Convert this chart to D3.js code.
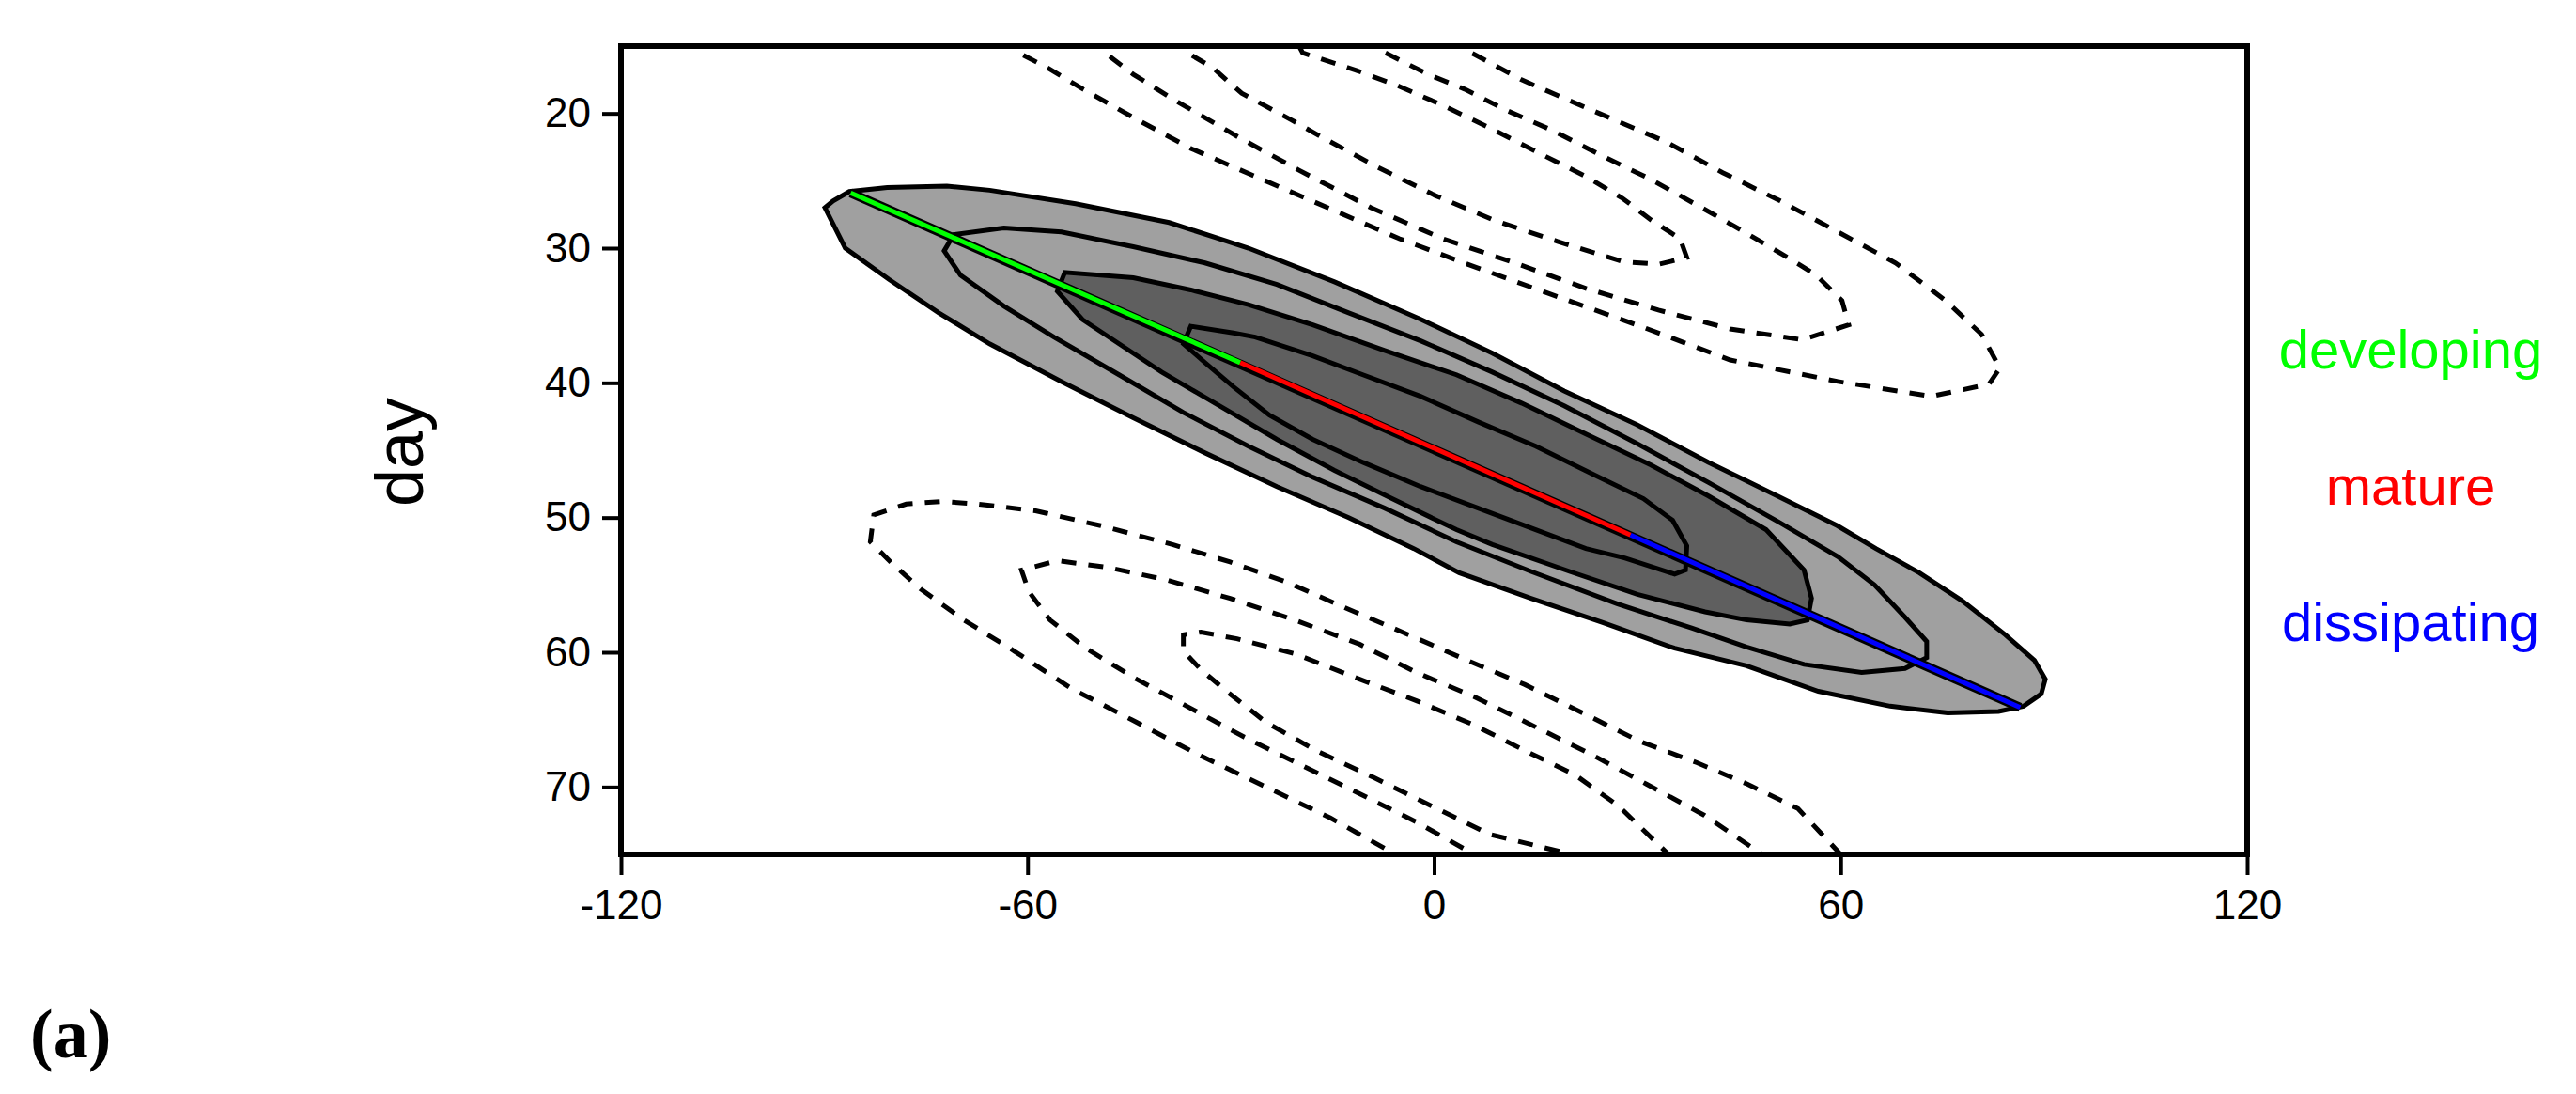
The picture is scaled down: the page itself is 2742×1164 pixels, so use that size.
<!DOCTYPE html>
<html>
<head>
<meta charset="utf-8">
<script src="https://cdn.jsdelivr.net/npm/d3@7"></script>
<style>
  body { margin: 0; background: #fff; }
  text { font-family: "Liberation Sans", Arial, sans-serif; }
</style>
</head>
<body>
<div id="chart"></div>
<script>
// axis ticks
var xTicks = [-120, -60, 0, 60, 120];
var yTicks = [20, 30, 40, 50, 60, 70];

// filled contours [lon, day]
var outerFill = [[-89.9,27.0],[-88.7,26.5],[-86.3,25.8],[-80.7,25.5],[-71.9,25.4],[-65.6,25.7],[-52.9,26.7],[-39.1,28.1],[-27.4,30.0],[-14.7,32.5],[-1.9,35.3],[8.6,37.8],[19.2,40.6],[29.9,43.1],[40.5,45.9],[51.1,48.5],[59.5,50.6],[65.2,52.3],[71.6,54.1],[78.0,56.2],[84.3,58.7],[88.6,60.6],[90.2,62.0],[89.6,63.1],[87.0,64.0],[83.3,64.4],[75.8,64.5],[67.3,64.0],[56.7,62.9],[46.1,61.0],[35.5,59.7],[24.9,57.8],[14.3,56.0],[3.7,54.1],[-3.0,52.3],[-12.6,50.0],[-23.2,47.7],[-33.8,45.2],[-44.4,42.6],[-55.0,39.9],[-65.6,37.1],[-73.1,34.8],[-80.5,32.3],[-86.9,30.0]];
var secondLine = [[-72.3,30.2],[-70.9,29.0],[-63.5,28.5],[-55.0,28.8],[-44.4,29.9],[-33.8,31.1],[-23.2,32.7],[-12.6,34.8],[-1.9,36.9],[8.6,39.2],[19.2,41.7],[29.9,44.5],[40.5,47.4],[51.1,50.4],[59.6,52.9],[65.0,55.0],[69.5,57.4],[72.7,59.2],[72.7,60.4],[69.5,61.2],[63.1,61.5],[54.6,60.9],[46.1,59.6],[38.0,58.2],[27.0,56.4],[14.3,54.0],[3.3,51.8],[-7.3,49.3],[-17.9,47.0],[-27.4,44.7],[-37.0,42.2],[-46.5,39.4],[-56.1,36.6],[-63.5,34.3],[-69.9,32.0]];
var innerFill = [[-55.6,33.2],[-54.5,31.8],[-44.4,32.2],[-35.9,33.1],[-27.4,34.2],[-17.9,35.7],[-7.3,37.6],[3.3,39.4],[12.9,41.5],[22.4,43.8],[32.0,46.1],[40.5,48.4],[49.0,50.9],[54.6,53.9],[55.7,56.0],[55.1,57.6],[52.5,57.9],[46.1,57.6],[40.0,57.0],[30.0,55.7],[20.0,54.0],[8.6,52.0],[3.3,50.9],[-6.2,48.6],[-14.7,46.5],[-23.2,44.2],[-31.7,41.7],[-40.2,39.2],[-46.5,37.1],[-51.9,35.3]];
var innerLine = [[-35.9,35.8],[-29.6,36.3],[-26.4,36.6],[-17.9,38.0],[-10.5,39.4],[-2.0,41.0],[6.5,42.9],[15.0,44.7],[23.5,46.8],[30.9,48.6],[35.2,50.2],[37.3,52.1],[37.1,53.9],[35.5,54.2],[28.1,53.0],[22.4,52.3],[15.0,50.9],[6.5,49.3],[-2.0,47.7],[-10.5,45.9],[-17.9,44.2],[-24.3,42.4],[-29.6,40.3],[-33.8,38.5],[-37.0,37.1]];

// dashed (negative) contours
var negUpper = [
  [[-37.6,14],[-36.4,15.5],[-32.7,16.6],[-28.4,18.5],[-21.0,20.5],[-16.8,21.7],[-8.3,24.0],[0.2,26.1],[8.7,27.9],[18.2,29.5],[27.8,31.0],[33.1,31.2],[37.3,30.7],[36.3,29.3],[32.0,27.9],[27.8,26.3],[22.5,24.7],[16.1,23.1],[8.7,21.2],[1.3,19.4],[-5.1,18.0],[-11.5,16.8],[-19.4,15.5],[-21.0,14]],
  [[-49.5,14],[-48.6,15.5],[-44.4,17.1],[-38.0,19.1],[-28.4,21.9],[-20.0,24.2],[-9.3,27.0],[1.3,29.3],[11.9,31.1],[22.5,33.0],[33.1,34.6],[43.7,36.0],[54.3,36.8],[61.2,35.7],[60.2,33.9],[56.4,32.0],[52.2,30.7],[45.8,28.8],[39.5,27.0],[32.0,24.9],[24.6,23.1],[17.2,21.2],[10.8,19.8],[4.5,18.2],[-0.9,17.1],[-7.2,15.5],[-8.6,14]],
  [[-62.6,14],[-61.3,15.5],[-57.1,16.6],[-51.8,18.2],[-44.4,20.3],[-35.9,22.6],[-26.3,24.7],[-15.7,27.0],[-5.1,29.3],[5.5,31.3],[18.2,33.6],[31.0,35.9],[43.7,38.3],[59.6,39.9],[73.4,41.0],[81.9,40.1],[83.5,38.9],[80.8,36.4],[75.5,33.9],[68.1,31.1],[59.6,28.8],[51.1,26.5],[42.6,24.4],[34.2,22.1],[26.7,20.5],[19.3,18.9],[12.9,17.5],[5.5,15.5],[4.0,14]]
];
var negLower = [
  [[-6.5,76],[-5.7,75],[-15.3,72.3],[-24.8,70.0],[-34.4,67.7],[-43.9,65.2],[-53.5,62.7],[-62.0,59.9],[-69.4,57.6],[-75.8,55.3],[-80.0,53.4],[-83.2,51.8],[-82.7,49.8],[-77.9,49.0],[-72.6,48.8],[-67.3,49.0],[-58.8,49.5],[-49.2,50.6],[-38.6,52.0],[-30.1,53.3],[-21.7,54.8],[-13.1,56.7],[-4.7,58.5],[4.9,60.6],[13.4,62.4],[21.9,64.5],[30.3,66.6],[38.8,68.2],[46.3,69.8],[53.7,71.6],[60.0,75],[60.5,76]],
  [[5.0,76],[5.9,75],[-2.6,72.6],[-11.0,70.5],[-19.5,68.4],[-28.0,66.3],[-36.5,64.0],[-43.9,62.0],[-51.4,59.7],[-56.7,57.6],[-59.8,55.5],[-60.9,53.9],[-55.6,53.2],[-48.2,53.7],[-39.7,54.6],[-30.1,56.0],[-20.6,57.6],[-11.0,59.4],[-2.6,61.5],[5.9,63.3],[14.4,65.4],[22.9,67.5],[31.4,69.8],[39.9,72.1],[48.4,75],[49.0,76]],
  [[19.5,76],[20.3,75],[8.1,73.5],[-0.4,71.4],[-8.9,69.3],[-17.4,67.3],[-24.8,65.2],[-30.1,63.1],[-34.4,61.3],[-37.0,59.9],[-37.0,58.7],[-34.4,58.5],[-29.1,59.0],[-20.6,60.1],[-11.0,62.0],[-2.6,63.6],[5.9,65.4],[13.4,67.3],[20.8,69.1],[27.2,71.4],[34.6,75],[35.0,76]]
];

// life-cycle track
var stageNames = ["developing", "mature", "dissipating"];
var stageColors = ["#00ff00", "#ff0000", "#0000ff"];
var stageTrack = [[[-86.1,25.9],[-28.6,38.5]], [[-28.6,38.5],[29.0,51.3]], [[29.0,51.3],[86.5,64.1]]];

var W = 2742, H = 1164;
var m = {left: 661, right: 2392, top: 49, bottom: 909};

var svg = d3.select("#chart").append("svg").attr("width", W).attr("height", H);

var x = d3.scaleLinear().domain([-120, 120]).range([m.left, m.right]);
var y = d3.scaleLinear().domain([15, 75]).range([m.top, m.bottom]);

svg.append("defs").append("clipPath").attr("id", "plotclip")
  .append("rect").attr("x", m.left).attr("y", m.top)
  .attr("width", m.right - m.left).attr("height", m.bottom - m.top);

var line = d3.line().x(function(d){ return x(d[0]); }).y(function(d){ return y(d[1]); });
var ring = d3.line().x(function(d){ return x(d[0]); }).y(function(d){ return y(d[1]); }).curve(d3.curveLinearClosed);

var g = svg.append("g").attr("clip-path", "url(#plotclip)");

g.append("path").attr("d", ring(outerFill)).attr("fill", "#a0a0a0").attr("stroke", "#000").attr("stroke-width", 5);
g.append("path").attr("d", ring(secondLine)).attr("fill", "none").attr("stroke", "#000").attr("stroke-width", 5);
g.append("path").attr("d", ring(innerFill)).attr("fill", "#5f5f5f").attr("stroke", "#000").attr("stroke-width", 5);
g.append("path").attr("d", ring(innerLine)).attr("fill", "none").attr("stroke", "#000").attr("stroke-width", 5);

g.selectAll("path.neg").data(negUpper.concat(negLower)).enter().append("path")
  .attr("class", "neg")
  .attr("d", line).attr("fill", "none").attr("stroke", "#000")
  .attr("stroke-width", 5).attr("stroke-dasharray", "16,13");

// track: black casing then coloured stages
g.append("path").attr("d", line([stageTrack[0][0], stageTrack[2][1]]))
  .attr("stroke", "#000").attr("stroke-width", 10).attr("fill", "none");
g.selectAll("path.stage").data(stageTrack).enter().append("path")
  .attr("class", "stage").attr("d", line).attr("fill", "none")
  .attr("stroke", function(d, i){ return stageColors[i]; }).attr("stroke-width", 5);

// frame
svg.append("rect").attr("x", m.left).attr("y", m.top)
  .attr("width", m.right - m.left).attr("height", m.bottom - m.top)
  .attr("fill", "none").attr("stroke", "#000").attr("stroke-width", 6);

var xAxis = svg.append("g").attr("transform", "translate(0," + m.bottom + ")")
  .call(d3.axisBottom(x).tickValues(xTicks).tickSize(22).tickPadding(16).tickFormat(d3.format("d")));
var yAxis = svg.append("g").attr("transform", "translate(" + m.left + ",0)")
  .call(d3.axisLeft(y).tickValues(yTicks).tickSize(20).tickPadding(12));
[xAxis, yAxis].forEach(function(a){
  a.select(".domain").remove();
  a.selectAll("line").attr("stroke-width", 4);
  a.selectAll("text").attr("font-size", 44).attr("fill", "#000");
});
xAxis.selectAll("text").text(function(d){ return d; });

svg.append("text").attr("transform", "translate(425,481) rotate(-90)")
  .attr("text-anchor", "middle").attr("dominant-baseline", "central")
  .attr("font-size", 72).text("day");

svg.selectAll("text.stage").data(stageNames).enter().append("text")
  .attr("class", "stage").attr("x", 2566)
  .attr("y", function(d, i){ return 371 + i * 145; })
  .attr("text-anchor", "middle").attr("dominant-baseline", "central")
  .attr("font-size", 58).attr("fill", function(d, i){ return stageColors[i]; })
  .text(function(d){ return d; });

svg.append("text").attr("x", 32).attr("y", 1125)
  .style("font-family", "'Liberation Serif', 'DejaVu Serif', serif")
  .attr("font-weight", "bold").attr("font-size", 74).text("(a)");
</script>
</body>
</html>
